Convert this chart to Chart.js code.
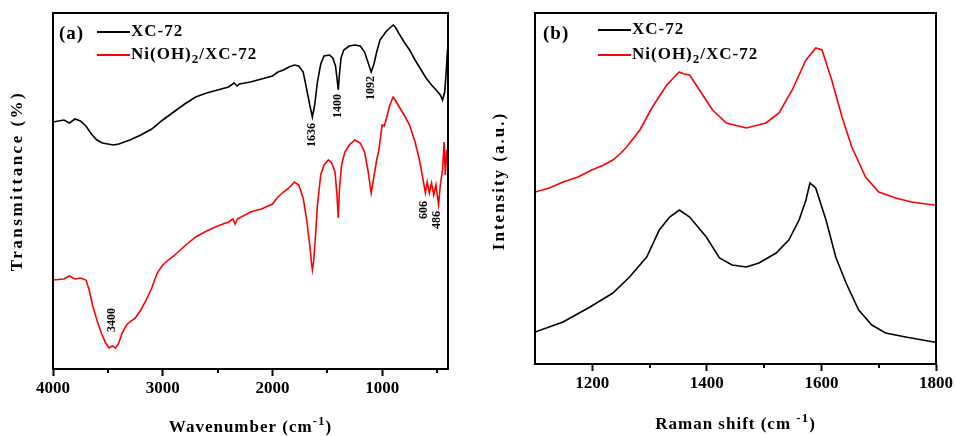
<!DOCTYPE html>
<html>
<head>
<meta charset="utf-8">
<script src="https://cdn.jsdelivr.net/npm/chart.js@4.4.1/dist/chart.umd.min.js"></script>
<style>
  html, body { margin: 0; padding: 0; background: #fff; }
  #wrap { position: relative; width: 955px; height: 436px; }
  canvas { position: absolute; top: 0; }
  #ftir { left: 0; }
  #raman { left: 478px; }
</style>
</head>
<body>
<div id="wrap">
  <canvas id="ftir" width="478" height="436"></canvas>
  <canvas id="raman" width="477" height="436"></canvas>
</div>
<script>
// ---- (a) FTIR: wavenumber (cm-1) vs transmittance (arbitrary units)
const ftirXcWave = [4000, 3900, 3850, 3800, 3750, 3700, 3650, 3600, 3550, 3500, 3450, 3400, 3300, 3200, 3100, 3000,
  2900, 2800, 2700, 2600, 2500, 2400, 2350, 2320, 2300, 2200, 2100, 2000, 1950, 1900, 1850, 1800, 1760, 1720,
  1690, 1660, 1636, 1615, 1590, 1560, 1530, 1480, 1450, 1425, 1410, 1400, 1390, 1375, 1350, 1300, 1250, 1200,
  1160, 1130, 1100, 1075, 1050, 1020, 1000, 960, 920, 900, 880, 850, 800, 750, 700, 650, 600, 550, 500, 470,
  450, 430, 415, 405, 400];
const ftirXcT = [247, 249, 246, 250, 248, 243, 235, 229, 226, 225, 224, 225, 229, 234, 240, 249,
  257, 265, 272, 276, 279, 282, 286, 283, 285, 287, 290, 293, 297, 299, 302, 304, 303, 297,
  281, 264, 252, 264, 287, 305, 313, 314, 311, 303, 289, 279, 294, 311, 319, 323, 324, 323,
  317, 307, 297, 305, 317, 329, 332, 338, 342, 344, 342, 336, 327, 319, 309, 300, 291, 284, 278, 274,
  269, 277, 299, 319, 321];

const ftirNiWave = [4000, 3900, 3850, 3800, 3750, 3700, 3670, 3640, 3600, 3560, 3520, 3490, 3460, 3430, 3400, 3370,
  3330, 3300, 3250, 3200, 3150, 3100, 3050, 3000, 2950, 2900, 2800, 2700, 2600, 2500, 2400, 2360, 2340, 2320,
  2200, 2100, 2000, 1950, 1900, 1850, 1800, 1760, 1720, 1690, 1660, 1645, 1636, 1625, 1610, 1590, 1560, 1530,
  1490, 1460, 1430, 1412, 1400, 1390, 1370, 1340, 1300, 1250, 1200, 1160, 1130, 1100, 1080, 1050, 1030, 1000,
  980, 960, 930, 900, 880, 850, 800, 750, 700, 660, 630, 606, 590, 570, 550, 530, 510, 486, 470, 450, 435,
  425, 412, 400];
const ftirNiT = [89, 90, 93, 90, 91, 89, 79, 64, 49, 36, 26, 21, 23, 21, 26, 36,
  44, 47, 51, 59, 69, 81, 96, 104, 109, 113, 123, 132, 138, 143, 147, 150, 145, 150,
  157, 160, 165, 172, 177, 181, 187, 184, 171, 151, 124, 107, 99, 107, 129, 164, 194, 204,
  209, 206, 197, 174, 151, 179, 204, 217, 224, 229, 226, 217, 199, 176, 189, 209, 219, 244,
  243, 251, 264, 272, 269, 263, 254, 244, 227, 209, 191, 176, 187, 176, 186, 174, 184, 164, 184, 199, 227,
  194, 219, 199];

const ftirMajorTicks = [4000, 3000, 2000, 1000];
const ftirMinorTicks = [3500, 2500, 1500, 500];
const ftirPeaks = [
  { text: '1636', wave: 1639, level: 234 },
  { text: '1400', wave: 1407, level: 263 },
  { text: '1092', wave: 1101, level: 281 },
  { text: '3400', wave: 3462, level: 49 },
  { text: '606', wave: 618, level: 159 },
  { text: '486', wave: 500, level: 149 }
];

// ---- (b) Raman: shift (cm-1) vs intensity (a.u.)
const ramanNiShift = [1100, 1125, 1149, 1175, 1199, 1220, 1236, 1250, 1260, 1283, 1305, 1330, 1345, 1352, 1360,
  1370, 1387, 1410, 1434, 1469, 1503, 1526, 1549, 1573, 1590, 1601, 1618, 1636, 1653, 1677, 1700, 1730, 1757,
  1796, 1800];
const ramanNiI = [172, 176, 182, 187, 194, 199, 204, 211, 217, 234, 257, 279, 288, 292, 290,
  289, 274, 254, 241, 236, 241, 251, 274, 304, 316, 314, 284, 247, 217, 187, 172, 166, 162,
  159, 159];

const ramanXcShift = [1100, 1149, 1196, 1236, 1265, 1295, 1317, 1335, 1352, 1370, 1399, 1422, 1444, 1469, 1491,
  1521, 1543, 1561, 1573, 1580, 1590, 1608, 1625, 1643, 1665, 1688, 1712, 1747, 1796, 1800];
const ramanXcI = [32, 42, 57, 71, 87, 107, 134, 147, 154, 147, 127, 106, 99, 97, 101,
  111, 124, 144, 164, 181, 176, 144, 107, 81, 54, 39, 31, 27, 22, 22];

const ramanMajorTicks = [1200, 1400, 1600, 1800];
const ramanMinorTicks = [1300, 1500, 1700];

const seriesNames = ['XC-72', 'Ni(OH)₂/XC-72'];
const seriesColors = ['#000000', '#ff0000'];

const SERIF = "'Liberation Serif', 'Times New Roman', serif";
Chart.defaults.font.family = SERIF;
Chart.defaults.color = '#000';

// turn unicode sub/superscripts into small raised / lowered runs
function richParts(text) {
  const sub = '₀₁₂₃₄₅₆₇₈₉', sup = '⁰¹²³⁴⁵⁶⁷⁸⁹⁻', plain = '0123456789-';
  const parts = [];
  for (const c of text) {
    let kind = 'n', ch = c;
    if (sub.includes(c)) { kind = 'sub'; ch = plain[sub.indexOf(c)]; }
    else if (sup.includes(c)) { kind = 'sup'; ch = plain[sup.indexOf(c)]; }
    const last = parts[parts.length - 1];
    if (last && last.kind === kind) last.s += ch; else parts.push({ kind: kind, s: ch });
  }
  return parts;
}

function drawRich(ctx, text, x, y, size, align, spacing) {
  const parts = richParts(text);
  const fontOf = k => 'bold ' + (k === 'n' ? size : Math.round(size * 0.75)) + 'px ' + SERIF;
  ctx.letterSpacing = spacing + 'px';
  const widths = parts.map(p => { ctx.font = fontOf(p.kind); return ctx.measureText(p.s).width; });
  const total = widths.reduce((a, b) => a + b, 0);
  let cx = align === 'center' ? x - total / 2 : x;
  ctx.textAlign = 'left';
  ctx.textBaseline = 'middle';
  parts.forEach((p, i) => {
    ctx.font = fontOf(p.kind);
    const dy = p.kind === 'sub' ? size * 0.3 : (p.kind === 'sup' ? -size * 0.4 : 0);
    ctx.fillText(p.s, cx, y + dy);
    cx += widths[i];
  });
  ctx.letterSpacing = '0px';
}

// frame, minor ticks, titles, legend, peak labels
const decorPlugin = {
  id: 'decor',
  afterDraw(chart, args, o) {
    const ctx = chart.ctx;
    const a = chart.chartArea;
    const xs = chart.scales.x, ys = chart.scales.y;
    ctx.save();
    ctx.fillStyle = '#000';
    ctx.strokeStyle = '#000';

    ctx.lineWidth = 2;
    ctx.strokeRect(a.left, a.top, a.right - a.left, a.bottom - a.top);

    o.minor.forEach(v => {
      const px = Math.round(xs.getPixelForValue(v));
      ctx.beginPath();
      ctx.moveTo(px, a.bottom);
      ctx.lineTo(px, a.bottom + 4);
      ctx.stroke();
    });

    // axis titles
    drawRich(ctx, o.xTitle, (a.left + a.right) / 2, o.xTitleY, 17, 'center', 1);
    ctx.save();
    ctx.translate(o.yTitleX, o.yTitleY);
    ctx.rotate(-Math.PI / 2);
    drawRich(ctx, o.yTitle, 0, 0, 17, 'center', o.yTitleSpacing);
    ctx.restore();

    // panel tag and legend
    drawRich(ctx, o.tag, a.left + o.tagDx, a.top + 21, 19, 'left', 1);
    chart.data.datasets.forEach((ds, i) => {
      const ly = a.top + o.legendDy[i];
      const lx = a.left + o.legendDx;
      ctx.strokeStyle = ds.borderColor;
      ctx.lineWidth = 2;
      ctx.beginPath();
      ctx.moveTo(lx, ly);
      ctx.lineTo(lx + 33, ly);
      ctx.stroke();
      drawRich(ctx, ds.label, lx + 34, ly, 17, 'left', 1);
    });

    // peak labels
    (o.peaks || []).forEach(p => {
      ctx.save();
      ctx.translate(xs.getPixelForValue(p.wave), ys.getPixelForValue(p.level));
      ctx.rotate(-Math.PI / 2);
      drawRich(ctx, p.text, 0, 0, 12, 'center', 0);
      ctx.restore();
    });
    ctx.restore();
  }
};

function toPoints(xv, yv) {
  return xv.map((x, i) => ({ x: x, y: yv[i] }));
}

function makeChart(id, cfg) {
  return new Chart(document.getElementById(id), {
    type: 'line',
    data: {
      datasets: cfg.series.map((s, i) => ({
        label: seriesNames[i],
        data: s,
        borderColor: seriesColors[i],
        borderWidth: 1.6,
        pointRadius: 0,
        tension: 0,
        fill: false
      }))
    },
    options: {
      responsive: false,
      animation: false,
      layout: { padding: { top: 13, right: cfg.padRight, left: 0, bottom: 0 } },
      plugins: {
        legend: { display: false },
        tooltip: { enabled: false },
        decor: cfg.decor
      },
      scales: {
        x: {
          type: 'linear',
          min: cfg.xMin,
          max: cfg.xMax,
          reverse: cfg.reverse,
          afterBuildTicks: s => { s.ticks = cfg.majors.map(v => ({ value: v })); },
          afterFit: s => { s.height = cfg.xAxisHeight; },
          ticks: {
            autoSkip: false,
            maxRotation: 0,
            padding: 2,
            color: '#000',
            font: { size: 17, weight: 'bold', family: SERIF },
            callback: v => String(v)
          },
          grid: { display: true, drawOnChartArea: false, drawTicks: true, tickLength: 7, tickWidth: 2, tickColor: '#000' },
          border: { display: true, color: '#000', width: 2 }
        },
        y: {
          type: 'linear',
          min: 0,
          max: cfg.yMax,
          afterFit: s => { s.width = cfg.yAxisWidth; },
          ticks: { display: false },
          grid: { display: false },
          border: { display: false }
        }
      }
    },
    plugins: [decorPlugin]
  });
}

makeChart('ftir', {
  series: [toPoints(ftirXcWave, ftirXcT), toPoints(ftirNiWave, ftirNiT)],
  xMin: 400, xMax: 4000, reverse: true, yMax: 356,
  majors: ftirMajorTicks,
  padRight: 30, yAxisWidth: 53, xAxisHeight: 67,
  decor: {
    minor: ftirMinorTicks,
    xTitle: 'Wavenumber (cm⁻¹)', xTitleY: 428,
    yTitle: 'Transmittance (%)', yTitleX: 18, yTitleY: 181, yTitleSpacing: 2.5,
    tag: '(a)', tagDx: 6,
    legendDx: 44, legendDy: [19, 42],
    peaks: ftirPeaks
  }
});

makeChart('raman', {
  series: [toPoints(ramanXcShift, ramanXcI), toPoints(ramanNiShift, ramanNiI)],
  xMin: 1100, xMax: 1800, reverse: false, yMax: 351,
  majors: ramanMajorTicks,
  padRight: 19, yAxisWidth: 57, xAxisHeight: 72,
  decor: {
    minor: ramanMinorTicks,
    xTitle: 'Raman shift (cm ⁻¹)', xTitleY: 425,
    yTitle: 'Intensity (a.u.)', yTitleX: 22, yTitleY: 181, yTitleSpacing: 2,
    tag: '(b)', tagDx: 8,
    legendDx: 63, legendDy: [17, 42],
    peaks: []
  }
});
</script>
</body>
</html>
